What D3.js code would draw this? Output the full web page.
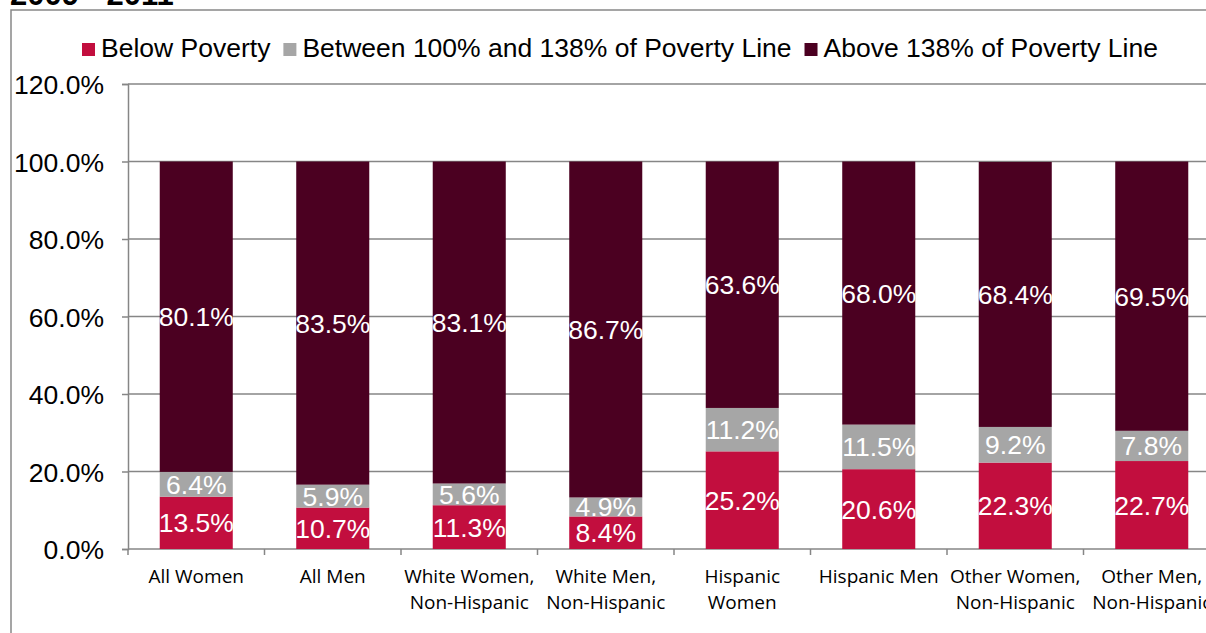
<!DOCTYPE html>
<html>
<head>
<meta charset="utf-8">
<script src="https://cdn.jsdelivr.net/npm/d3@7"></script>
<style>
  html, body { margin: 0; padding: 0; background: #fff; overflow: hidden; }
  svg { display: block; }
</style>
</head>
<body>
<svg id="chart" width="1206" height="633"></svg>
<script>
const categories = [
  ["All Women"],
  ["All Men"],
  ["White Women,", "Non-Hispanic"],
  ["White Men,", "Non-Hispanic"],
  ["Hispanic", "Women"],
  ["Hispanic Men"],
  ["Other Women,", "Non-Hispanic"],
  ["Other Men,", "Non-Hispanic"]
];
const seriesNames = ["Below Poverty", "Between 100% and 138% of Poverty Line", "Above 138% of Poverty Line"];
const belowPoverty = [13.5, 10.7, 11.3, 8.4, 25.2, 20.6, 22.3, 22.7];
const between100and138 = [6.4, 5.9, 5.6, 4.9, 11.2, 11.5, 9.2, 7.8];
const above138 = [80.1, 83.5, 83.1, 86.7, 63.6, 68.0, 68.4, 69.5];
const yTicks = [0, 20, 40, 60, 80, 100, 120];
const titleText = "2009 - 2011";

const colors = ["#C20E3E", "#A6A6A6", "#4B0021"];
const gridColor = "#868686";

const svg = d3.select("#chart");

// Title (clipped at top, as in reference)
svg.append("text").attr("x", 10).attr("y", 5)
  .attr("font-family", "Arial, 'Liberation Sans', sans-serif")
  .attr("font-weight", "bold").attr("font-size", 31).attr("fill", "#000")
  .text(titleText);

// Outer chart border
svg.append("rect").attr("x", 11).attr("y", 10).attr("width", 1300).attr("height", 700)
  .attr("fill", "none").attr("stroke", "#888").attr("stroke-width", 1.5);

const keys = categories.map((c, i) => i);
const x = d3.scaleBand().domain(keys).range([128, 1220]).paddingInner(0.465).paddingOuter(0.2325);
const y = d3.scaleLinear().domain([0, 120]).range([549, 84]);

// gridlines
svg.append("g").selectAll("line").data(yTicks.filter(t => t > 0)).join("line")
  .attr("x1", 128).attr("x2", 1206)
  .attr("y1", d => y(d)).attr("y2", d => y(d))
  .attr("stroke", gridColor).attr("stroke-width", 1.5);

// y axis
const yAxis = svg.append("g").attr("transform", "translate(128,0)")
  .call(d3.axisLeft(y).tickValues(yTicks).tickSize(6).tickPadding(18)
    .tickFormat(d => d.toFixed(1) + "%"));
yAxis.select(".domain").attr("stroke", gridColor).attr("stroke-width", 1.5);
yAxis.selectAll(".tick line").attr("stroke", gridColor).attr("stroke-width", 1.5);
yAxis.selectAll(".tick text").attr("font-family", "Arial, 'Liberation Sans', sans-serif")
  .attr("font-size", 26.5).attr("fill", "#000").attr("dy", "0.36em");

// x axis line + ticks at band boundaries
const step = x.step();
const boundaries = d3.range(categories.length + 1).map(i => x.range()[0] + i * step);
svg.append("line").attr("x1", 128).attr("x2", 1206).attr("y1", y(0)).attr("y2", y(0))
  .attr("stroke", gridColor).attr("stroke-width", 1.5);
svg.append("g").selectAll("line").data(boundaries).join("line")
  .attr("x1", d => d).attr("x2", d => d).attr("y1", y(0)).attr("y2", y(0) + 6)
  .attr("stroke", gridColor).attr("stroke-width", 1.5);

// stacked data
const table = keys.map(i => ({ i, s0: belowPoverty[i], s1: between100and138[i], s2: above138[i] }));
const stack = d3.stack().keys(["s0", "s1", "s2"]);
const stacked = stack(table);

const layers = svg.append("g").selectAll("g").data(stacked).join("g")
  .attr("fill", (d, k) => colors[k]);
layers.selectAll("rect").data(d => d).join("rect")
  .attr("x", d => x(d.data.i))
  .attr("width", x.bandwidth())
  .attr("y", d => y(Math.min(d[1], 100)))
  .attr("height", d => y(d[0]) - y(Math.min(d[1], 100)));

// data labels
const labelG = svg.append("g");
stacked.forEach((layer, k) => {
  labelG.append("g").selectAll("text").data(layer).join("text")
    .attr("x", d => x(d.data.i) + x.bandwidth() / 2)
    .attr("y", d => y((d[0] + Math.min(d[1], 100)) / 2))
    .attr("dy", "0.36em")
    .attr("text-anchor", "middle")
    .attr("font-family", "Arial, 'Liberation Sans', sans-serif")
    .attr("font-size", 26.5).attr("fill", "#fff")
    .text(d => (d[1] - d[0]).toFixed(1) + "%");
});

// category labels
const catG = svg.append("g");
categories.forEach((lines, i) => {
  const t = catG.append("text")
    .attr("x", x(i) + x.bandwidth() / 2).attr("y", 583)
    .attr("text-anchor", "middle")
    .attr("font-family", "'Open Sans', 'Noto Sans', sans-serif")
    .attr("font-size", 19).attr("fill", "#000");
  lines.forEach((ln, j) => {
    t.append("tspan").attr("x", x(i) + x.bandwidth() / 2).attr("y", 583 + j * 26).text(ln);
  });
});

// legend
const legend = svg.append("g");
let lx = 82;
seriesNames.forEach((name, k) => {
  legend.append("rect").attr("x", lx).attr("y", 43).attr("width", 13).attr("height", 13).attr("fill", colors[k]);
  const t = legend.append("text").attr("x", lx + 19).attr("y", 57)
    .attr("font-family", "Arial, 'Liberation Sans', sans-serif")
    .attr("font-size", 26.5).attr("fill", "#000").text(name);
  lx = lx + 19 + t.node().getComputedTextLength() + 13;
});
</script>
</body>
</html>
